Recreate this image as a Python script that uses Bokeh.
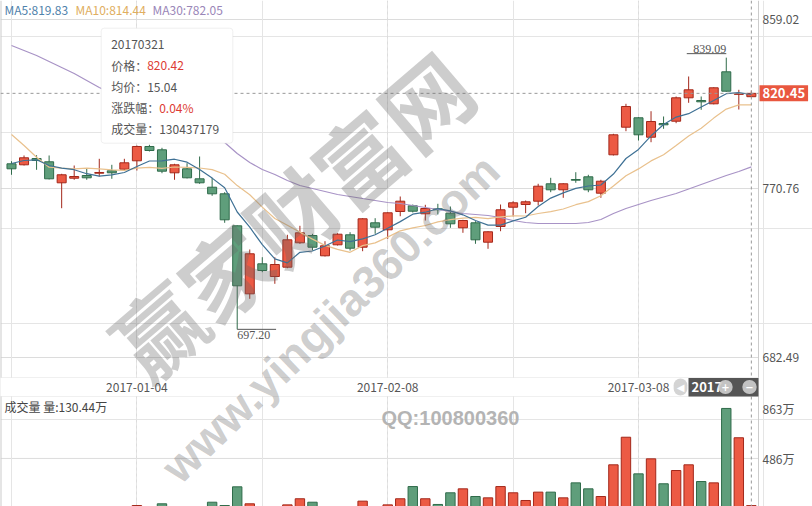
import math
from bokeh.plotting import figure
from bokeh.models import ColumnDataSource, Range1d, FixedTicker, Span, Label, BoxAnnotation, Grid
from bokeh.embed import file_html
from bokeh.resources import INLINE

# ---------------- data ----------------
dates = ["2016-12-20", "2016-12-21", "2016-12-22", "2016-12-23", "2016-12-26", "2016-12-27", "2016-12-28", "2016-12-29", "2016-12-30", "2017-01-03",
         "2017-01-04", "2017-01-05", "2017-01-06", "2017-01-09", "2017-01-10", "2017-01-11", "2017-01-12", "2017-01-13", "2017-01-16", "2017-01-17",
         "2017-01-18", "2017-01-19", "2017-01-20", "2017-01-23", "2017-01-24", "2017-01-25", "2017-01-26", "2017-02-03", "2017-02-06", "2017-02-07",
         "2017-02-08", "2017-02-09", "2017-02-10", "2017-02-13", "2017-02-14", "2017-02-15", "2017-02-16", "2017-02-17", "2017-02-20", "2017-02-21",
         "2017-02-22", "2017-02-23", "2017-02-24", "2017-02-27", "2017-02-28", "2017-03-01", "2017-03-02", "2017-03-03", "2017-03-06", "2017-03-07",
         "2017-03-08", "2017-03-09", "2017-03-10", "2017-03-13", "2017-03-14", "2017-03-15", "2017-03-16", "2017-03-17", "2017-03-20", "2017-03-21"]

opens = [783.65, 783.13, 786.42, 784.70, 773.73, 776.13, 777.54, 778.74, 780.00, 780.83,
         785.22, 792.69, 790.96, 778.95, 781.04, 775.82, 771.43, 767.98, 751.27, 715.75,
         731.42, 724.79, 729.65, 742.39, 746.20, 735.60, 741.35, 746.57, 740.09, 752.84,
         749.18, 758.74, 761.72, 757.54, 760.15, 757.85, 750.23, 752.84, 742.71, 750.90,
         760.98, 762.39, 764.12, 773.21, 770.07, 775.45, 776.86, 768.30, 788.35, 802.77,
         807.68, 797.54, 804.70, 805.90, 818.12, 816.71, 814.99, 831.70, 819.95, 818.70]
closes = [781.04, 786.79, 785.38, 775.82, 777.91, 777.02, 776.34, 779.11, 778.95, 784.17,
          792.69, 790.60, 779.79, 783.13, 776.34, 773.73, 767.98, 754.40, 719.93, 736.65,
          727.92, 731.06, 743.96, 747.61, 740.09, 740.82, 746.88, 739.57, 754.93, 750.54,
          758.06, 764.12, 758.90, 760.31, 759.63, 752.31, 754.04, 743.96, 748.14, 759.63,
          763.28, 763.81, 771.95, 770.07, 773.21, 775.09, 770.07, 774.56, 798.80, 813.58,
          798.80, 805.74, 804.02, 818.12, 822.30, 816.03, 823.34, 821.57, 820.12, 820.45]
highs = [785.01, 787.99, 788.14, 787.99, 778.43, 782.76, 781.04, 786.26, 783.13, 786.26,
         793.21, 793.57, 792.01, 783.65, 783.97, 787.46, 776.34, 768.82, 751.50, 738.89,
         734.87, 734.87, 746.57, 751.27, 747.09, 743.23, 747.41, 747.93, 755.24, 755.24,
         758.30, 766.57, 762.39, 762.24, 762.76, 761.35, 754.40, 753.67, 748.45, 762.39,
         764.12, 764.48, 773.21, 776.34, 773.52, 779.26, 777.91, 775.30, 799.32, 814.99,
         808.00, 811.12, 808.36, 818.80, 829.25, 818.80, 823.60, 839.09, 822.30, 821.93]
lows = [777.91, 782.76, 780.52, 775.50, 760.46, 775.30, 775.30, 777.02, 775.82, 780.15,
        780.15, 790.08, 778.74, 775.30, 776.00, 773.21, 766.94, 752.84, 697.20, 713.14,
        727.04, 720.98, 729.13, 741.87, 738.37, 735.24, 740.98, 738.37, 738.00, 747.09,
        744.48, 756.28, 758.22, 754.04, 757.17, 750.23, 747.61, 741.87, 739.26, 748.45,
        756.13, 757.85, 761.87, 768.82, 765.89, 773.73, 768.82, 765.89, 787.99, 800.68,
        795.82, 794.93, 801.93, 804.86, 815.51, 811.85, 814.70, 821.30, 812.01, 818.44]
volumes = [80, 95, 70, 105, 110, 75, 60, 85, 70, 100,
           131, 100, 144, 110, 105, 115, 156, 131, 272, 144,
           110, 100, 136, 182, 156, 105, 110, 100, 164, 115,
           136, 182, 274, 182, 139, 227, 257, 199, 189, 274,
           227, 169, 232, 232, 189, 302, 257, 199, 438, 646,
           370, 483, 295, 395, 438, 312, 302, 863, 642, 130.44]  # 万
ma5 = [783.81, 785.38, 785.74, 782.76, 781.41, 780.57, 778.48, 777.23, 777.85, 779.11,
       782.24, 785.11, 785.22, 786.05, 784.49, 780.73, 776.18, 771.12, 758.48, 750.54,
       741.40, 733.98, 731.89, 737.43, 738.11, 740.72, 743.85, 743.02, 744.48, 746.57,
       750.02, 753.46, 757.33, 758.37, 760.20, 759.05, 757.01, 754.04, 751.64, 751.64,
       753.83, 755.76, 761.35, 765.74, 768.45, 770.80, 772.06, 772.58, 778.32, 786.42,
       791.17, 798.28, 804.18, 808.04, 809.82, 813.27, 816.76, 820.26, 820.84, 819.83]
ma10 = [798.95, 793.21, 787.10, 781.88, 781.35, 781.04, 781.35, 781.04, 780.52, 780.26,
        781.41, 781.77, 781.25, 781.98, 781.82, 781.46, 780.62, 778.17, 772.27, 767.51,
        761.04, 755.08, 751.53, 747.98, 744.32, 741.03, 738.94, 737.43, 740.93, 742.34,
        745.37, 748.66, 750.17, 751.43, 753.36, 754.51, 755.24, 755.66, 754.98, 755.92,
        756.44, 756.39, 757.69, 758.69, 760.05, 762.29, 763.91, 766.99, 772.06, 777.44,
        780.99, 785.17, 788.40, 793.21, 798.12, 802.19, 807.52, 812.22, 814.41, 814.44]
ma30 = [845.44, 842.83, 840.21, 837.08, 833.95, 830.81, 827.16, 823.50, 820.37, 817.23,
        814.62, 811.49, 808.36, 805.74, 803.13, 801.04, 797.91, 794.78, 789.03, 784.33,
        780.67, 778.06, 774.93, 772.32, 770.75, 769.18, 767.62, 766.57, 765.53, 764.48,
        763.44, 762.92, 761.87, 760.83, 759.78, 758.74, 757.70, 757.17, 756.65, 755.60,
        754.04, 752.99, 752.47, 752.47, 752.47, 752.47, 752.99, 754.56, 757.70, 760.31,
        762.39, 764.48, 766.31, 768.14, 770.49, 772.84, 775.19, 777.54, 779.63, 782.05]

price_ticks = [682.49, 770.76, 859.02]
vol_ticks = [486, 863]
vol_grid = [486]
date_labels = ["2017-01-04", "2017-02-08", "2017-03-08"]

tip_price = 820.42
tip_avg = 15.04
tip_change = "0.04%"
tip_volume = 130437179

# ---------------- style / layout ----------------
FONT = "Noto Sans CJK SC"
RED_FILL, RED_LINE = "#ec5a44", "#a3281b"
GRN_FILL, GRN_LINE = "#5f9e7b", "#2f6b4a"
MA5_C, MA10_C, MA30_C = "#3f7195", "#e9c18d", "#a893c6"
MA5_T, MA10_T, MA30_T = "#4f82ab", "#e0ae60", "#9a86b8"
GRID = "#dcdcdc"
BORDER = "#cccccc"
TXT = "#555555"
RED_T = "#dd3b33"

FW, FH = 812, 506              # one frame: price panel, date band, volume panel and the label column
X0, X1 = -0.877, 63.876        # index range across the whole width
X_EDGE = 59.569                # index at the right edge of the chart area (page x 758)
PY0, PY1 = 604.67, 868.94      # price scale over the whole height
VY0, VY1 = 123.66, 3938.9      # volume scale (万) over the whole height
BAND_TOP, BAND_BOT = 377, 396  # page rows of the date band
LBL_X = 762                    # page x of the right-hand tick labels

n = len(dates)
xs = list(range(n))
up = [c >= o for o, c in zip(opens, closes)]
src = ColumnDataSource(dict(
    x=xs, high=highs, low=lows,
    top=[max(o, c) for o, c in zip(opens, closes)],
    bot=[min(o, c) for o, c in zip(opens, closes)],
    fill=[RED_FILL if u else GRN_FILL for u in up],
    line=[RED_LINE if u else GRN_LINE for u in up],
    vol=volumes, ma5=ma5, ma10=ma10, ma30=ma30))

tick_idx = [dates.index(d) for d in date_labels]

def sc(X, Y):
    """page pixel -> frame screen units (y measured up from frame bottom)"""
    return X, FH - Y

p = figure(frame_width=FW, frame_height=FH, x_range=Range1d(X0, X1), y_range=Range1d(PY0, PY1),
           x_axis_location=None, y_axis_location=None, output_backend="svg", toolbar_location=None,
           min_border=0)
p.extra_y_ranges = {"vol": Range1d(VY0, VY1)}
p.outline_line_color = None
p.border_fill_color = "white"
p.background_fill_color = "white"

# ---- grid ----
p.add_layout(Grid(dimension=0, ticker=FixedTicker(ticks=tick_idx), grid_line_color=GRID,
                  grid_line_dash="3 3"), "center")
p.segment(x0=[X0] * len(price_ticks), x1=[X_EDGE] * len(price_ticks), y0=price_ticks, y1=price_ticks,
          line_color=GRID, line_width=1, level="underlay")
p.segment(x0=[X0] * len(vol_grid), x1=[X_EDGE] * len(vol_grid), y0=vol_grid, y1=vol_grid,
          line_color=GRID, line_width=1, level="underlay", y_range_name="vol")
p.add_layout(Span(location=X_EDGE, dimension="height", line_color=BORDER, line_width=1, level="underlay"))
p.add_layout(Span(location=X0, dimension="height", line_color=BORDER, line_width=2, level="underlay"))

# ---- volume bars ----
p.vbar(x="x", width=0.75, top="vol", bottom=0, fill_color="fill", line_color="line", line_width=1,
       source=src, y_range_name="vol")

# ---- candles ----
p.segment(x0="x", y0="high", x1="x", y1="low", line_color="line", line_width=1, source=src)
p.vbar(x="x", width=0.72, top="top", bottom="bot", fill_color="fill", line_color="line", line_width=1, source=src)

p.line("x", "ma30", source=src, line_color=MA30_C, line_width=1.2)
p.line("x", "ma10", source=src, line_color=MA10_C, line_width=1.2)
p.line("x", "ma5", source=src, line_color=MA5_C, line_width=1.2)

# max / min markers
ppx = (PY1 - PY0) / FH
imax = highs.index(max(highs))
imin = lows.index(min(lows))
p.segment(x0=[imax - 3.15], y0=[max(highs) + 4 * ppx], x1=[imax], y1=[max(highs) + 4 * ppx], line_color="#555555", line_width=1)
p.text(x=[imax], y=[max(highs)], text=[f"{max(highs):.2f}"], text_align="right", text_baseline="bottom",
       y_offset=-5, text_font_size="12px", text_color=TXT, text_font=FONT)
p.segment(x0=[imin], y0=[min(lows)], x1=[imin + 3.1], y1=[min(lows)], line_color="#555555", line_width=1)
p.text(x=[imin], y=[min(lows)], text=[f"{min(lows):.2f}"], text_align="left", text_baseline="top",
       y_offset=2, text_font_size="12px", text_color=TXT, text_font=FONT)

# ---- date band between the panels ----
l, t = sc(-1, BAND_TOP)
r, b = sc(758, BAND_BOT)
p.add_layout(BoxAnnotation(left=l, right=r, top=t, bottom=b, left_units="screen", right_units="screen",
                           top_units="screen", bottom_units="screen", fill_color="white", fill_alpha=1.0,
                           line_color=BORDER, line_width=1, level="underlay"))
_, yb = sc(0, (BAND_TOP + BAND_BOT) / 2 + 0.5)
for i in tick_idx:
    p.add_layout(Label(x=i, y=yb, x_units="data", y_units="screen", text=dates[i], text_color=TXT,
                       text_font=FONT, text_font_size="12px", text_align="center", text_baseline="middle"))

# ---- right-hand tick labels ----
x_lbl, _ = sc(LBL_X, 0)
for t in price_ticks:
    p.add_layout(Label(x=x_lbl, y=t, x_units="screen", y_units="data", text=f"{t:.2f}", text_color=TXT,
                       text_font=FONT, text_font_size="12px", text_baseline="middle"))
for v in vol_ticks:
    p.add_layout(Label(x=x_lbl, y=v, x_units="screen", y_units="data", y_range_name="vol", text=f"{v}万",
                       text_color=TXT, text_font=FONT, text_font_size="12px", text_baseline="middle"))

# watermark
x, y = sc(290, 213)
p.add_layout(Label(x=x, y=y, x_units="screen", y_units="screen", text="赢家财富网", angle=math.radians(40.6),
                   text_align="center", text_baseline="middle", text_font=FONT, text_font_style="bold",
                   text_font_size="88px", text_color="#666666", text_alpha=0.33))
x, y = sc(330, 318)
p.add_layout(Label(x=x, y=y, x_units="screen", y_units="screen", text="www.yingjia360.com", angle=math.radians(44),
                   text_align="center", text_baseline="middle", text_font="Liberation Sans", text_font_style="bold",
                   text_font_size="46px", text_color="#666666", text_alpha=0.33))
x, y = sc(381, 417)
p.add_layout(Label(x=x, y=y, x_units="screen", y_units="screen", text="QQ:100800360", text_color="#b4b4b4",
                   text_font="Liberation Sans", text_font_style="bold", text_font_size="20px", text_baseline="middle"))

# crosshair at the last candle / last close
p.add_layout(Span(location=xs[-1], dimension="height", line_color="#999999", line_dash="3 3", line_width=1))
p.segment(x0=[X0], x1=[X_EDGE], y0=[closes[-1]], y1=[closes[-1]], line_color="#999999", line_dash="3 3", line_width=1)

# legend text
for X, txt, col in [(4, f"MA5:{ma5[-1]:.2f}", MA5_T), (75, f"MA10:{ma10[-1]:.2f}", MA10_T), (152, f"MA30:{ma30[-1]:.2f}", MA30_T)]:
    x, y = sc(X, 9)
    p.add_layout(Label(x=x, y=y, x_units="screen", y_units="screen", text=txt, text_color=col,
                       text_font=FONT, text_font_size="12px", text_baseline="middle"))

# volume caption
x, y = sc(4, 406)
p.add_layout(Label(x=x, y=y, x_units="screen", y_units="screen", text=f"成交量 量:{volumes[-1]:.2f}万", text_color="#444444",
                   text_font=FONT, text_font_size="12px", text_baseline="middle"))

# tooltip box
l, t = sc(100.7, 27.7)
r, b = sc(232.3, 142.7)
p.add_layout(BoxAnnotation(left=l, right=r, top=t, bottom=b, left_units="screen", right_units="screen",
                           top_units="screen", bottom_units="screen", fill_color="white", fill_alpha=1.0,
                           line_color=BORDER, line_width=1, border_radius=3))
tip_rows = [(43.5, dates[-1].replace("-", ""), None),
            (64.5, "价格：", f"{tip_price:.2f}"),
            (86, f"均价：{tip_avg:.2f}", None),
            (107, "涨跌幅：", tip_change),
            (128, f"成交量：{tip_volume}", None)]
for Y, head, val in tip_rows:
    x, y = sc(110.7, Y)
    p.add_layout(Label(x=x, y=y, x_units="screen", y_units="screen", text=head, text_color=TXT,
                       text_font=FONT, text_font_size="12px", text_baseline="middle"))
    if val is not None:
        x2, _ = sc(110.7 + 12 * len(head), Y)
        p.add_layout(Label(x=x2, y=y, x_units="screen", y_units="screen", text=val, text_color=RED_T,
                           text_font=FONT, text_font_size="12px", text_baseline="middle"))

# current price tag on the label column
x, _ = sc(759, 0)
p.add_layout(Label(x=x, y=closes[-1], x_units="screen", y_units="data", text=f"{closes[-1]:.2f}",
                   text_color="white", text_font=FONT, text_font_style="bold", text_font_size="13px",
                   text_baseline="middle", background_fill_color="#e9573f", padding=3))

# navigator control in the date band
l, t = sc(688, BAND_TOP + 0.5)
r, b = sc(758, BAND_BOT)
p.add_layout(BoxAnnotation(left=l, right=r, top=t, bottom=b, left_units="screen", right_units="screen",
                           top_units="screen", bottom_units="screen", fill_color="#555555", fill_alpha=1.0,
                           line_color=None))
x, y = sc(691, 386.5)
p.add_layout(Label(x=x, y=y, x_units="screen", y_units="screen", text="2017", text_color="white",
                   text_font=FONT, text_font_style="bold", text_font_size="13px", text_baseline="middle"))
for X, sym in [(680, "◀"), (725, "+"), (749, "−")]:
    x, y = sc(X, 386.5)
    p.add_layout(Label(x=x, y=y, x_units="screen", y_units="screen", text=sym, text_color="white",
                       text_font="DejaVu Sans", text_font_style="bold", text_font_size="10px",
                       text_align="center", text_baseline="middle", background_fill_color="#cfcfcf",
                       background_fill_alpha=0.9, border_radius=8, padding=3))

open("out.html", "w").write(file_html(p, INLINE))
